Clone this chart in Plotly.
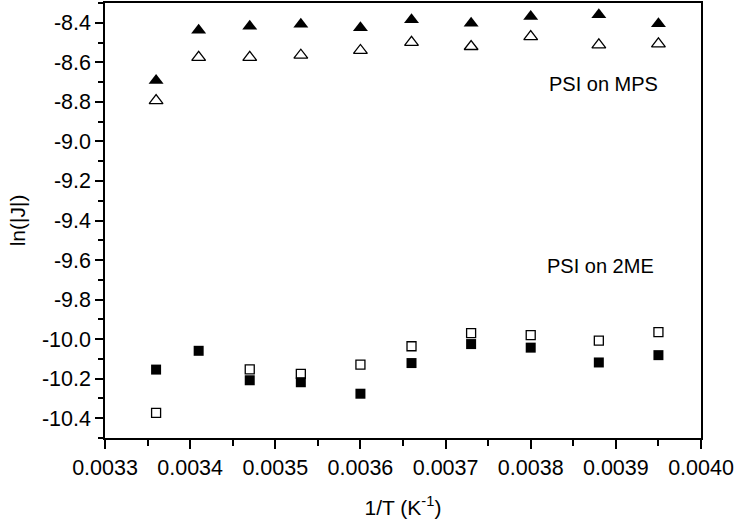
import plotly.graph_objects as go

# Data
inv_T = [0.00336, 0.00341, 0.00347, 0.00353, 0.00360, 0.00366, 0.00373, 0.00380, 0.00388, 0.00395]

mps_filled = [-8.692, -8.438, -8.418, -8.408, -8.425, -8.385, -8.402, -8.368, -8.360, -8.405]
mps_open = [-8.794, -8.575, -8.575, -8.564, -8.540, -8.499, -8.520, -8.470, -8.512, -8.507]

me_filled = [-10.154, -10.059, -10.208, -10.218, -10.276, -10.121, -10.025, -10.043, -10.118, -10.081]
me_open = [-10.373, None, -10.153, -10.176, -10.129, -10.036, -9.970, -9.980, -10.008, -9.965]

y_tickvals = [-8.4, -8.6, -8.8, -9.0, -9.2, -9.4, -9.6, -9.8, -10.0, -10.2, -10.4]
y_ticktext = ["-8.4", "-8.6", "-8.8", "-9.0", "-9.2", "-9.4", "-9.6", "-9.8", "-10.0", "-10.2", "-10.4"]
x_tickvals = [0.0033, 0.0034, 0.0035, 0.0036, 0.0037, 0.0038, 0.0039, 0.0040]
x_ticktext = ["0.0033", "0.0034", "0.0035", "0.0036", "0.0037", "0.0038", "0.0039", "0.0040"]

labels = ["PSI on MPS", "PSI on 2ME"]
label_x = [0.003885, 0.003882]
label_y = [-8.71, -9.628]

FONT = "Liberation Sans, Arial, sans-serif"

fig = go.Figure()
fig.add_trace(go.Scatter(x=inv_T, y=mps_filled, mode="markers",
                         marker=dict(symbol="triangle-up", size=13, color="black",
                                     line=dict(width=0))))
fig.add_trace(go.Scatter(x=inv_T, y=mps_open, mode="markers",
                         marker=dict(symbol="triangle-up-open", size=12, color="black",
                                     line=dict(width=1.3, color="black"))))
fig.add_trace(go.Scatter(x=inv_T, y=me_filled, mode="markers",
                         marker=dict(symbol="square", size=10, color="black",
                                     line=dict(width=0))))
fig.add_trace(go.Scatter(x=inv_T, y=me_open, mode="markers",
                         marker=dict(symbol="square-open", size=9, color="black",
                                     line=dict(width=1.3, color="black"))))

for t, xx, yy in zip(labels, label_x, label_y):
    fig.add_annotation(x=xx, y=yy, text=t, showarrow=False,
                       font=dict(family=FONT, size=20, color="black"))

fig.update_layout(
    width=736, height=524,
    margin=dict(l=105, r=35, t=1, b=86),
    paper_bgcolor="white", plot_bgcolor="white",
    showlegend=False,
    font=dict(family=FONT, color="black"),
)
fig.update_xaxes(
    range=[0.0033, 0.0040],
    tickvals=x_tickvals, ticktext=x_ticktext,
    ticks="outside", ticklen=9, tickwidth=1.5, tickcolor="black",
    minor=dict(dtick=0.00005, tick0=0.0033, ticks="outside", ticklen=6,
               tickwidth=1.5, tickcolor="black", showgrid=False),
    showline=True, linewidth=1.5, linecolor="black", mirror=True,
    showgrid=False, zeroline=False,
    tickfont=dict(family=FONT, size=21.5, color="black"),
    title=dict(text="1/T (K<sup>-1</sup>)", font=dict(family=FONT, size=21, color="black"),
               standoff=22),
)
fig.update_yaxes(
    range=[-10.5, -8.3],
    tickvals=y_tickvals, ticktext=y_ticktext,
    ticks="outside", ticklen=8, tickwidth=1.5, tickcolor="black",
    minor=dict(dtick=0.1, tick0=-10.5, ticks="outside", ticklen=5,
               tickwidth=1.5, tickcolor="black", showgrid=False),
    showline=True, linewidth=1.5, linecolor="black", mirror=True,
    showgrid=False, zeroline=False,
    tickfont=dict(family=FONT, size=21.5, color="black"),
    title=dict(text="ln(|J|)", font=dict(family=FONT, size=21, color="black"),
               standoff=11),
)

fig.write_html("out.html",
               config={"displayModeBar": False},
               post_script="document.body.style.margin='0';document.body.style.padding='0';")
